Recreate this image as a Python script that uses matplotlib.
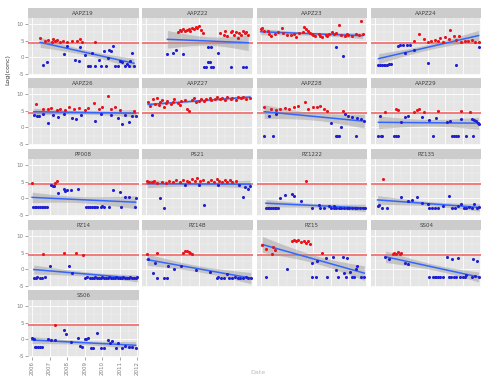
import numpy as np
import matplotlib
matplotlib.use('Agg')
import matplotlib.pyplot as plt

# ---- data: decimal year / log(conc), red = above limit, blue = below ----
a19_rx = [2006.46, 2006.74, 2006.91, 2007.14, 2007.2, 2007.3, 2007.4, 2007.6, 2007.77, 2008.0, 2008.3, 2008.57, 2008.74, 2008.86, 2009.6]
a19_ry = [5.8, 4.95, 5.25, 4.65, 5.55, 4.95, 5.25, 4.65, 4.95, 4.65, 5.0, 5.0, 5.6, 4.7, 4.5]
a19_bx = [2006.63, 2006.84, 2007.8, 2008.0, 2008.46, 2008.65, 2008.74, 2009.03, 2009.2, 2009.3, 2009.4, 2009.6, 2009.8, 2009.9, 2010.1,
          2010.2, 2010.3, 2010.4, 2010.5, 2010.6, 2010.7, 2010.9, 2011.0, 2011.1, 2011.3, 2011.4, 2011.5, 2011.6, 2011.7, 2011.8]
a19_by = [-2.4, -1.5, 1.1, 3.3, -0.7, -1.0, 3.1, 0.8, -2.5, -2.5, 1.4, -2.5, -0.7, -2.5, 1.8,
          -2.5, -0.2, 2.3, 1.8, 3.3, -2.5, -2.5, -1.0, -1.5, -2.5, -2.0, -2.5, -1.0, 1.4, -2.5]

a22_rx = [2007.8, 2007.9, 2008.0, 2008.1, 2008.2, 2008.3, 2008.4, 2008.5, 2008.6, 2008.7, 2008.8, 2008.9, 2009.0, 2009.1, 2009.2,
          2010.2, 2010.4, 2010.5, 2010.6, 2010.8, 2010.9, 2011.0, 2011.1, 2011.2, 2011.3, 2011.4, 2011.5, 2011.6, 2011.7, 2011.8]
a22_ry = [7.6, 8.2, 7.9, 8.5, 8.0, 8.3, 8.6, 8.0, 8.8, 8.4, 9.2, 8.7, 9.5, 8.2, 7.3,
          7.2, 6.8, 7.9, 6.4, 7.5, 8.0, 6.6, 7.6, 5.9, 7.3, 6.8, 7.9, 7.2, 7.5, 6.8]
a22_bx = [2007.2, 2007.5, 2007.66, 2008.06, 2009.3, 2009.4, 2009.5, 2009.5, 2009.6, 2009.7, 2009.7, 2009.8, 2010.1, 2010.8, 2011.5, 2011.66]
a22_by = [1.1, 1.4, 2.3, 1.1, -2.8, -2.8, -1.3, 3.2, -1.3, 3.2, -2.8, -2.8, 1.4, -2.8, -2.8, -2.8]

a23_rx = [2006.0, 2006.1, 2006.2, 2006.4, 2006.5, 2006.6, 2006.8, 2007.0, 2007.2, 2007.3, 2007.5, 2007.7, 2007.9,
          2008.0, 2008.2, 2008.4, 2008.46, 2008.6, 2008.7, 2008.8, 2008.9, 2009.0, 2009.1, 2009.3, 2009.4, 2009.5, 2009.7,
          2009.8, 2009.9, 2010.06, 2010.2, 2010.3, 2010.46, 2010.6, 2010.8, 2010.9, 2011.0, 2011.2, 2011.4, 2011.6, 2011.7, 2011.8]
a23_ry = [8.4, 8.9, 7.8, 8.0, 7.0, 6.4, 6.9, 7.5, 8.8, 7.3, 6.6, 6.8, 7.1,
          6.2, 7.3, 7.6, 9.1, 8.6, 7.9, 7.4, 7.0, 6.6, 6.4, 6.9, 6.5, 6.2, 6.8,
          6.3, 7.0, 7.6, 6.9, 7.2, 9.7, 6.8, 6.4, 6.9, 6.7, 6.5, 7.0, 6.7, 10.9, 6.9]
a23_bx = [2010.3, 2010.7]
a23_by = [3.2, 0.5]

a24_rx = [2008.2, 2008.5, 2008.8, 2009.0, 2009.2, 2009.4, 2009.6, 2009.7, 2009.9, 2010.0, 2010.2, 2010.3, 2010.5, 2010.6,
          2010.8, 2010.9, 2011.1, 2011.3, 2011.5, 2011.7, 2011.9]
a24_ry = [5.0, 7.0, 5.6, 4.6, 4.8, 5.3, 5.0, 5.9, 4.6, 6.0, 5.4, 8.3, 6.3, 5.2, 6.4, 4.6, 5.0, 4.8, 5.1, 4.6, 4.7]
a24_bx = [2006.2, 2006.3, 2006.4, 2006.5, 2006.6, 2006.7, 2006.8, 2006.9, 2007.3, 2007.4, 2007.6, 2007.7, 2007.8, 2008.0,
          2008.2, 2009.0, 2010.6, 2011.9]
a24_by = [-2.3, -2.4, -2.3, -2.2, -2.3, -2.2, -2.1, -2.1, 3.4, 3.8, 3.6, 1.4, 3.8, 3.6, 2.3, -1.6, -2.3, 3.2]

a26_rx = [2006.2, 2006.6, 2006.9, 2007.1, 2007.4, 2007.6, 2007.9, 2008.1, 2008.4, 2008.7, 2009.0, 2009.2, 2009.5, 2009.8,
          2010.0, 2010.3, 2010.5, 2010.7, 2011.0, 2011.8]
a26_ry = [7.0, 5.4, 5.6, 5.9, 5.2, 5.5, 5.3, 6.2, 5.4, 5.8, 5.3, 5.7, 7.3, 5.5, 6.0, 9.4, 5.6, 6.0, 5.1, 4.8]
a26_bx = [2006.1, 2006.3, 2006.4, 2006.6, 2006.9, 2007.2, 2007.5, 2007.8, 2008.3, 2008.5, 2008.8, 2009.6, 2009.9, 2010.5,
          2010.9, 2011.1, 2011.3, 2011.5, 2011.7, 2011.9]
a26_by = [3.8, 3.3, 3.5, 4.0, 1.4, 3.6, 3.2, 3.9, 2.7, 2.5, 3.8, 2.0, 4.0, 3.8, 2.8, 1.0, 3.6, 1.6, 3.3, 3.5]

a27_rx = [2006.1, 2006.2, 2006.4, 2006.5, 2006.6, 2006.7, 2006.8, 2006.9, 2007.0, 2007.1, 2007.2, 2007.4, 2007.5, 2007.6,
          2007.8, 2007.9, 2008.0, 2008.2, 2008.3, 2008.4, 2008.6, 2008.7, 2008.8, 2009.0, 2009.1, 2009.3, 2009.4, 2009.6,
          2009.7, 2009.9, 2010.0, 2010.2, 2010.3, 2010.5, 2010.6, 2010.8, 2010.9, 2011.1, 2011.2, 2011.4, 2011.5, 2011.7, 2011.9]
a27_ry = [7.5, 6.5, 8.4, 7.0, 8.7, 6.6, 7.7, 8.2, 6.1, 7.3, 8.0, 7.0, 7.7, 8.5,
          7.4, 6.8, 7.9, 8.3, 5.5, 5.0, 8.2, 8.7, 7.6, 8.0, 8.6, 7.8, 8.4, 8.9,
          8.1, 8.5, 9.0, 8.6, 8.8, 8.2, 9.2, 8.6, 8.9, 8.3, 9.0, 8.7, 9.1, 8.6, 8.8]
a27_bx = [2006.3]
a27_by = [3.8]

a28_rx = [2006.2, 2006.6, 2006.9, 2007.1, 2007.4, 2007.6, 2007.9, 2008.1, 2008.5, 2008.7, 2009.0, 2009.2, 2009.4, 2009.6,
          2009.8, 2010.7]
a28_ry = [6.0, 5.5, 5.1, 5.6, 5.8, 5.4, 6.1, 6.5, 7.5, 5.6, 6.2, 6.0, 6.3, 5.4, 5.0, 4.9]
a28_bx = [2006.2, 2006.5, 2006.7, 2006.9, 2010.0, 2010.3, 2010.35, 2010.45, 2010.6, 2010.8, 2011.0, 2011.2, 2011.4, 2011.5,
          2011.7, 2011.9]
a28_by = [-2.5, 3.4, -2.5, 4.0, 1.4, -2.5, -2.5, -2.5, 0.2, 3.9, 3.3, 3.2, -2.5, 2.9, 2.4, 1.8]

a29_rx = [2006.6, 2007.2, 2007.3, 2008.2, 2008.4, 2008.5, 2008.8, 2009.6, 2010.9, 2011.4]
a29_ry = [4.7, 5.6, 5.2, 4.6, 5.1, 5.6, 4.6, 4.8, 4.9, 4.6]
a29_bx = [2006.2, 2006.3, 2006.35, 2006.4, 2007.1, 2007.2, 2007.3, 2007.5, 2007.7, 2007.9, 2008.7, 2009.1, 2009.3, 2009.5,
          2010.1, 2010.3, 2010.4, 2010.5, 2010.6, 2010.7, 2010.9, 2011.2, 2011.5, 2011.6, 2011.65, 2011.75, 2011.85, 2011.9]
a29_by = [-2.5, 3.5, -2.5, -2.5, -2.5, -2.5, -2.5, 1.7, 3.0, 3.3, 3.2, 2.1, -2.5, 2.9,
          1.7, 2.0, -2.5, -2.5, -2.5, -2.5, 2.6, -2.5, 2.4, -2.5, 2.2, 2.0, 1.4, 1.0]

pp008_rx = [2006.0, 2007.3, 2007.4]
pp008_ry = [4.6, 4.7, 5.2]
pp008_bx = [2006.05, 2006.15, 2006.25, 2006.35, 2006.45, 2006.55, 2006.65, 2006.75, 2006.85, 2007.1, 2007.2, 2007.25,
            2007.5, 2007.8, 2007.9, 2008.0, 2008.2, 2008.6, 2009.1, 2009.2, 2009.3, 2009.4, 2009.5, 2009.6, 2009.7,
            2009.9, 2010.0, 2010.1, 2010.4, 2010.6, 2011.0, 2011.05, 2011.3, 2011.5, 2011.85, 2011.9]
pp008_by = [-2.7, -2.7, -2.7, -2.7, -2.7, -2.7, -2.7, -2.7, -2.7, 4.0, 3.6, 3.8,
            1.7, 2.9, 2.1, 2.6, 2.4, 2.7, -2.7, -2.7, -2.7, -2.7, -2.7, -2.7, -2.7,
            -2.7, -2.2, -2.7, -2.7, 2.6, 1.8, -2.7, 0.5, 0.3, -2.7, 0.0]

ps21_rx = [2006.05, 2006.15, 2006.3, 2006.45, 2006.6, 2006.9, 2007.1, 2007.3, 2007.5, 2007.7, 2007.9, 2008.1, 2008.3,
           2008.45, 2008.6, 2008.75, 2008.9, 2009.05, 2009.2, 2009.5, 2009.7, 2009.85, 2010.0, 2010.15, 2010.3, 2010.45,
           2010.6, 2010.75, 2010.9, 2011.1]
ps21_ry = [5.2, 4.8, 4.9, 5.3, 4.7, 5.0, 4.6, 5.1, 4.9, 5.4, 5.0, 5.6, 5.2,
           4.8, 5.8, 5.3, 6.0, 5.1, 5.6, 5.0, 5.4, 4.8, 5.7, 5.2, 4.9, 5.5,
           5.0, 5.4, 4.9, 5.2]
ps21_bx = [2006.8, 2007.0, 2008.2, 2009.0, 2009.3, 2010.1, 2011.3, 2011.5, 2011.6, 2011.8, 2011.9]
ps21_by = [0.2, -2.8, 4.0, 3.9, -1.9, 4.1, 4.0, 0.5, 3.5, 2.7, 3.7]

pz1222_rx = [2008.6]
pz1222_ry = [5.3]
pz1222_bx = [2006.3, 2006.4, 2006.5, 2006.6, 2006.7, 2006.8, 2006.9, 2007.0, 2007.1, 2007.4, 2007.8, 2007.9, 2008.3,
             2008.9, 2009.3, 2009.4, 2009.6, 2009.9, 2010.0, 2010.15, 2010.2, 2010.3, 2010.45, 2010.6, 2010.75, 2010.9,
             2011.05, 2011.2, 2011.35, 2011.5, 2011.65, 2011.8, 2011.95]
pz1222_by = [-3.0, -3.0, -3.0, -3.0, -3.0, -3.0, -3.0, -3.0, 0.2, 0.9, 1.2, 0.7, -0.8,
             -3.0, -1.9, -3.0, -3.0, -2.2, -3.0, -3.0, -2.4, -3.0, -3.0, -3.0, -3.0, -3.0,
             -3.0, -3.0, -3.0, -3.0, -3.0, -3.0, -3.0]

pz135_rx = [2006.45]
pz135_ry = [5.8]
pz135_bx = [2006.15, 2006.25, 2006.4, 2006.7, 2007.5, 2007.9, 2008.1, 2008.4, 2008.7, 2009.0, 2009.1, 2009.25, 2009.4,
            2009.6, 2009.9, 2010.2, 2010.4, 2010.55, 2010.7, 2010.9, 2011.05, 2011.2, 2011.35, 2011.5, 2011.65, 2011.8, 2011.95]
pz135_by = [-2.4, -1.9, -2.8, -2.8, 0.5, -0.9, -0.6, 0.5, -1.4, -1.8, -2.8, -2.8, -2.8,
            -2.8, -2.2, 0.8, -2.8, -2.8, -2.3, -1.6, -2.8, -2.8, -2.6, -2.8, -1.8, -2.8, -2.6]

pz14_rx = [2006.6, 2007.8, 2008.5, 2008.9]
pz14_ry = [4.7, 4.8, 4.8, 4.4]
pz14_bx = [2006.1, 2006.2, 2006.3, 2006.45, 2006.55, 2006.75, 2007.0, 2008.1, 2008.25, 2009.0, 2009.15, 2009.3, 2009.4,
           2009.5, 2009.6, 2009.7, 2009.8, 2009.9, 2010.0, 2010.1, 2010.2, 2010.3, 2010.4, 2010.5, 2010.6, 2010.7, 2010.8,
           2010.9, 2011.0, 2011.1, 2011.2, 2011.3, 2011.4, 2011.5, 2011.6, 2011.7, 2011.8, 2011.9, 2012.0]
pz14_by = [-2.5, -2.5, -2.4, -2.5, -2.5, -2.4, 1.1, 1.1, -1.0, -2.5, -2.4, -2.5, -2.5,
           -2.5, -2.4, -2.5, -2.5, -2.5, -2.4, -2.5, -2.5, -2.5, -2.4, -2.5, -2.5, -2.5, -2.4,
           -2.5, -2.5, -2.5, -2.4, -2.5, -2.5, -2.5, -2.4, -2.5, -2.5, -2.5, -2.4]

pz14b_rx = [2006.05, 2006.6, 2008.1, 2008.2, 2008.3, 2008.4, 2008.5, 2008.6]
pz14b_ry = [4.5, 4.9, 5.0, 5.4, 5.6, 5.2, 4.8, 4.6]
pz14b_bx = [2006.1, 2006.4, 2006.5, 2006.6, 2007.0, 2007.2, 2007.25, 2007.6, 2008.0, 2008.8, 2009.6, 2010.0, 2010.1,
            2010.25, 2010.4, 2010.6, 2010.7, 2010.9, 2011.05, 2011.2, 2011.35, 2011.5, 2011.65, 2011.8, 2011.95]
pz14b_by = [3.0, -1.0, 1.8, -2.5, -2.5, -2.5, 1.0, 0.2, 1.1, -0.3, -0.8, -2.5, -2.2,
            -2.5, -2.5, -1.3, -2.5, -2.5, -2.4, -2.5, -2.5, -2.5, -2.4, -2.5, -2.5]

pz15_rx = [2006.1, 2006.3, 2006.65, 2006.7, 2006.8, 2007.8, 2007.9, 2008.0, 2008.15, 2008.3, 2008.45, 2008.6, 2008.7,
           2008.8, 2009.5]
pz15_ry = [7.2, 6.1, 4.6, 6.8, 5.9, 8.6, 8.9, 8.4, 8.7, 8.3, 8.5, 7.9, 8.6, 7.6, 5.0]
pz15_bx = [2006.3, 2007.5, 2008.9, 2008.95, 2009.15, 2009.2, 2009.7, 2009.8, 2010.1, 2010.3, 2010.4, 2010.7, 2010.75,
           2010.85, 2010.9, 2011.1, 2011.2, 2011.3, 2011.4, 2011.5, 2011.7, 2011.9]
pz15_by = [-2.4, 0.2, 2.0, -2.4, -2.4, 2.5, 3.5, -2.4, 3.7, -0.1, -2.4, 3.8, -1.0,
           -2.4, 3.5, -0.8, -2.4, -2.4, 0.1, 1.1, -2.4, -2.4]

ss04_rx = [2007.0, 2007.1, 2007.2, 2007.3, 2007.4, 2007.5]
ss04_ry = [4.6, 5.0, 4.7, 5.1, 4.6, 4.8]
ss04_bx = [2006.6, 2006.8, 2007.7, 2007.9, 2009.1, 2009.3, 2009.4, 2009.5, 2009.6, 2009.7, 2009.9, 2010.1, 2010.2,
           2010.35, 2010.4, 2010.5, 2010.6, 2010.7, 2010.85, 2011.0, 2011.1, 2011.2, 2011.5, 2011.6, 2011.7, 2011.8, 2011.9]
ss04_by = [3.6, 3.2, 2.0, 1.7, -2.4, -2.2, -2.4, -2.4, -2.4, -2.3, -2.4, 3.8, -2.4,
           -2.4, 3.2, -2.3, -2.4, 3.5, -2.2, -2.4, -2.3, -1.8, -2.4, 3.2, -2.0, 2.4, -2.3]

ss06_rx = [2007.3]
ss06_ry = [4.4]
ss06_bx = [2006.0, 2006.1, 2006.15, 2006.25, 2006.35, 2006.45, 2006.55, 2006.9, 2007.1, 2007.3, 2007.8, 2007.95,
           2008.2, 2008.6, 2008.75, 2008.85, 2009.0, 2009.1, 2009.2, 2009.35, 2009.45, 2009.7, 2009.95,
           2010.1, 2010.3, 2010.45, 2010.55, 2010.8, 2010.9, 2011.1, 2011.3, 2011.5, 2011.7, 2011.9]
ss06_by = [0.3, 0.1, -2.4, -2.4, -2.4, -2.4, -2.4, 0.0, -0.3, -0.2, 2.7, 1.5,
           -0.7, 0.3, -1.9, -2.4, 0.0, 0.2, 0.4, -2.6, -2.6, 1.8, -2.6,
           -2.6, -0.2, -1.0, -0.6, -2.6, -1.2, -2.6, -2.0, -2.4, -2.4, -2.6]

limit = 4.2
years = [2006, 2007, 2008, 2009, 2010, 2011, 2012]

panels = [
    ('AAPZ19', a19_rx, a19_ry, a19_bx, a19_by),
    ('AAPZ22', a22_rx, a22_ry, a22_bx, a22_by),
    ('AAPZ23', a23_rx, a23_ry, a23_bx, a23_by),
    ('AAPZ24', a24_rx, a24_ry, a24_bx, a24_by),
    ('AAPZ26', a26_rx, a26_ry, a26_bx, a26_by),
    ('AAPZ27', a27_rx, a27_ry, a27_bx, a27_by),
    ('AAPZ28', a28_rx, a28_ry, a28_bx, a28_by),
    ('AAPZ29', a29_rx, a29_ry, a29_bx, a29_by),
    ('PP008', pp008_rx, pp008_ry, pp008_bx, pp008_by),
    ('PS21', ps21_rx, ps21_ry, ps21_bx, ps21_by),
    ('PZ1222', pz1222_rx, pz1222_ry, pz1222_bx, pz1222_by),
    ('PZ135', pz135_rx, pz135_ry, pz135_bx, pz135_by),
    ('PZ14', pz14_rx, pz14_ry, pz14_bx, pz14_by),
    ('PZ14B', pz14b_rx, pz14b_ry, pz14b_bx, pz14b_by),
    ('PZ15', pz15_rx, pz15_ry, pz15_bx, pz15_by),
    ('SS04', ss04_rx, ss04_ry, ss04_bx, ss04_by),
    ('SS06', ss06_rx, ss06_ry, ss06_bx, ss06_by),
]

W, H = 483.0, 378.0
fig = plt.figure(figsize=(4.83, 3.78), dpi=100)

col_left = [28, 142.3, 256.6, 370.9]
pan_w = 110.5
strip_top = [8, 78, 149, 220, 290]
strip_h = 10
pan_h = 57


def lm_smooth(ax, x, y):
    # straight-line fit with a ~95% band, like geom_smooth(method="lm")
    x = np.asarray(x, float)
    y = np.asarray(y, float)
    b, a = np.polyfit(x, y, 1)
    xs = np.linspace(x.min(), x.max(), 80)
    fit = a + b * xs
    n = len(x)
    s = np.sqrt(((y - (a + b * x)) ** 2).sum() / (n - 2))
    se = s * np.sqrt(1.0 / n + (xs - x.mean()) ** 2 / ((x - x.mean()) ** 2).sum())
    ax.fill_between(xs, fit - 2.0 * se, fit + 2.0 * se, color='#999999', alpha=0.45, lw=0, zorder=3)
    ax.plot(xs, fit, color='#3366FF', lw=1.1, zorder=4)


for i, (name, rx, ry, bx, by) in enumerate(panels):
    r, c = divmod(i, 4)
    left = col_left[c] / W
    top = strip_top[r]
    ax = fig.add_axes([left, 1 - (top + strip_h + pan_h) / H, pan_w / W, pan_h / H])
    sax = fig.add_axes([left, 1 - (top + strip_h) / H, pan_w / W, strip_h / H])
    sax.set_facecolor('#CCCCCC')
    sax.set_xticks([]); sax.set_yticks([])
    for sp in sax.spines.values():
        sp.set_visible(False)
    sax.text(0.5, 0.45, name, ha='center', va='center', fontsize=4, color='#444444', transform=sax.transAxes)

    ax.set_facecolor('#E5E5E5')
    for sp in ax.spines.values():
        sp.set_visible(False)
    ax.set_xlim(2005.77, 2012.06)
    ax.set_ylim(-5.3, 11.8)
    ax.set_xticks(years)
    ax.set_xticks([2006.5, 2007.5, 2008.5, 2009.5, 2010.5, 2011.5], minor=True)
    ax.set_yticks([-5, 0, 5, 10])
    ax.set_yticks([-2.5, 2.5, 7.5], minor=True)
    ax.grid(which='major', color='white', lw=0.6)
    ax.grid(which='minor', color='#F2F2F2', lw=0.35)
    ax.set_axisbelow(True)
    ax.tick_params(which='minor', length=0)
    ax.tick_params(which='major', length=2, width=0.5, color='#7F7F7F', labelsize=4,
                   labelcolor='#7F7F7F', pad=1)

    if c == 0:
        ax.set_yticklabels(['-5', '0', '5', '10'])
    else:
        ax.tick_params(axis='y', length=0, labelleft=False)
    if name == 'SS06':
        ax.set_xticklabels([str(y) for y in years], rotation=90)
    else:
        ax.tick_params(axis='x', length=0, labelbottom=False)

    ax.axhline(limit, color='#F27C7C', lw=1.4, zorder=2)
    ax.scatter(rx, ry, s=5, color='#E8141A', lw=0, zorder=5)
    ax.scatter(bx, by, s=5, color='#2020D0', lw=0, zorder=5)
    lm_smooth(ax, rx + bx, ry + by)

fig.text(8 / W, 1 - 70 / H, 'Log(conc)', rotation=90, ha='center', va='center', fontsize=4.5, color='#333333')
fig.text(258 / W, 1 - 373 / H, 'Date', ha='center', va='center', fontsize=4.5, color='#BBBBBB')

fig.savefig('out.png', dpi=100)
